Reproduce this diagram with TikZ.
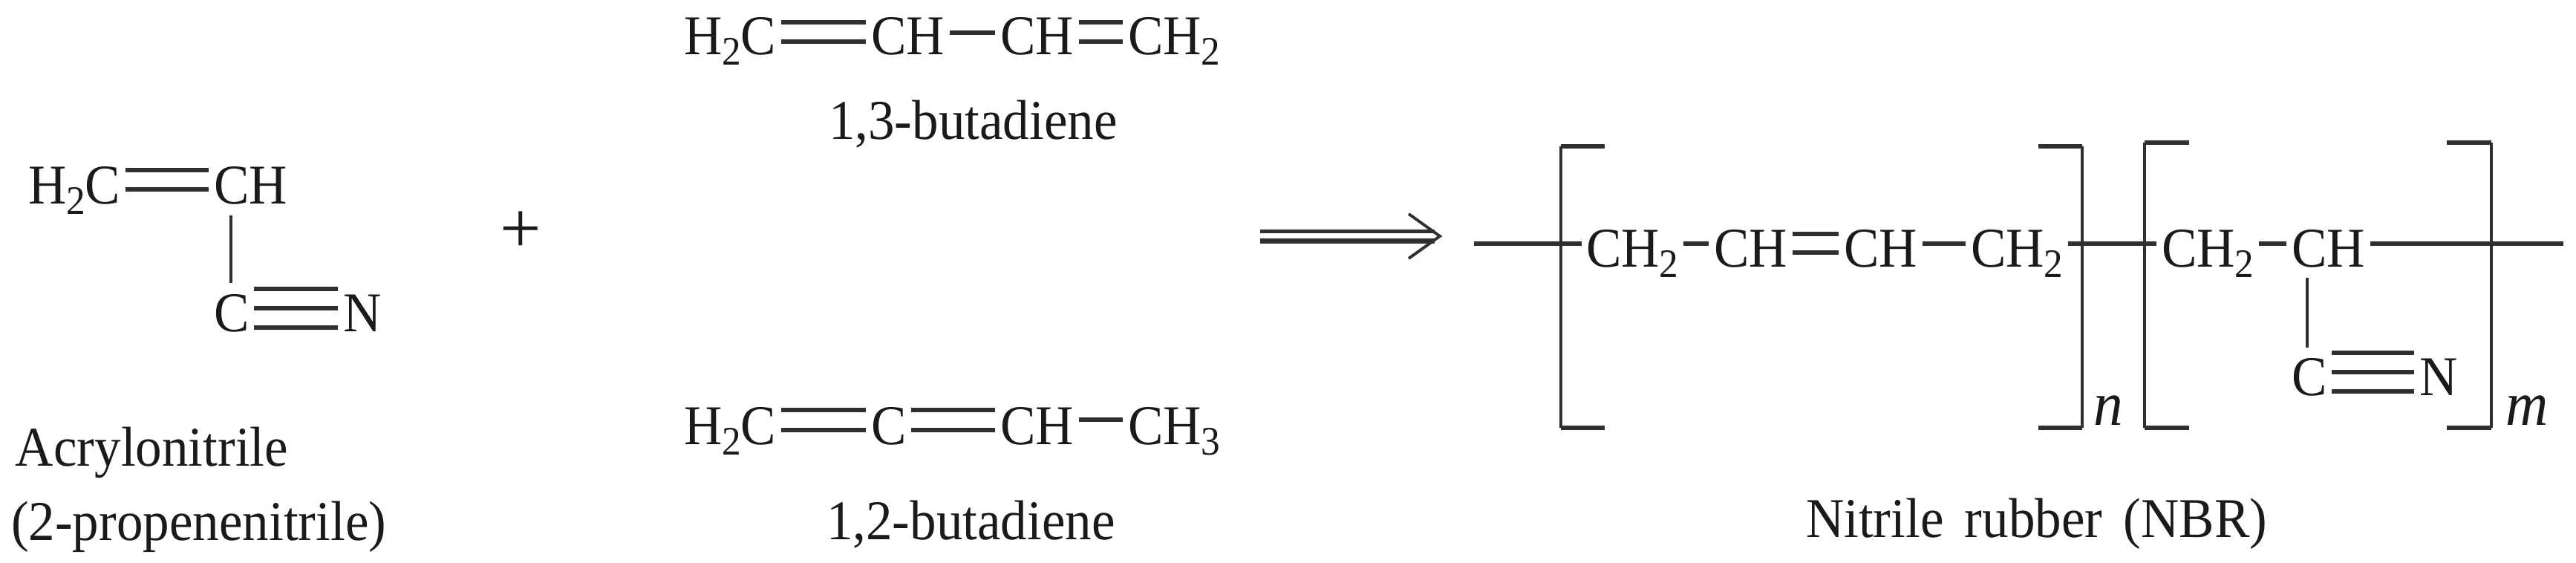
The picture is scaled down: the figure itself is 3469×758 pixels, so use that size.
\documentclass[tikz,border=0pt]{standalone}
\usepackage{fontspec}
\setmainfont[FakeStretch=0.94]{Liberation Serif}
\newfontfamily\plainserif{Liberation Serif}
\definecolor{ink}{HTML}{1A1A1A}
\definecolor{bondink}{HTML}{303030}
\newcommand{\sbs}[1]{\raisebox{-3.9pt}{\fontsize{15.5}{16}\selectfont #1}}
\newcommand{\bond}[3]{\draw[bondline] ([shift={(7,-#3)}]#1.base east) -- ([shift={(-7,-#3)}]#2.base west);}
\tikzset{
  x=0.01cm, y=-0.01cm,
  every node/.style={inner sep=0pt, outer sep=0pt, anchor=base west, text=ink, font=\fontsize{21.5}{24}\selectfont},
  bondline/.style={draw=bondink, line width=1.65pt},
  thinbond/.style={draw=bondink, line width=0.95pt},
  bracket/.style={draw=bondink, line width=1pt},
  bracketarm/.style={draw=bondink, line width=1.6pt},
  polysub/.style={font=\fontsize{24}{26}\selectfont\itshape}
}
\begin{document}
\begin{tikzpicture}
\useasboundingbox (0,0) rectangle (3469,758);
% acrylonitrile
\node (aH) at (38,275) {H\sbs{2}C};
\node (aCH) at (288,275) {CH};
\node (aC) at (288,447) {C};
\node (aN) at (462,447) {N};
\bond{aH}{aCH}{46}
\bond{aH}{aCH}{20}
\draw[thinbond] ([shift={(23,15)}]aCH.base west) -- ([shift={(23,-66)}]aC.base west);
\bond{aC}{aN}{58}
\bond{aC}{aN}{32}
\bond{aC}{aN}{6}
\node (plus) at (673,341) {\plainserif\fontsize{28}{30}\selectfont +};
\node (acry) at (21,627) {Acrylonitrile};
\node (prop) at (15,727) {(2-propenenitrile)};
% 1,3-butadiene
\node (bA) at (921,74) {H\sbs{2}C};
\node (bB) at (1173,74) {CH};
\node (bC) at (1347,74) {CH};
\node (bD) at (1519,74) {CH\sbs{2}};
\bond{bA}{bB}{44}
\bond{bA}{bB}{18}
\bond{bB}{bC}{30}
\bond{bC}{bD}{44}
\bond{bC}{bD}{18}
\node (bname) at (1116,188) {1,3-butadiene};
% 1,2-butadiene
\node (cA) at (921,599) {H\sbs{2}C};
\node (cB) at (1173,599) {C};
\node (cC) at (1347,599) {CH};
\node (cD) at (1519,599) {CH\sbs{3}};
\bond{cA}{cB}{47}
\bond{cA}{cB}{20}
\bond{cB}{cC}{47}
\bond{cB}{cC}{20}
\bond{cC}{cD}{34}
\node (cname) at (1113,726) {1,2-butadiene};
% reaction arrow
\coordinate (arU) at (1697,311.5);
\coordinate (arL) at (1697,324.5);
\coordinate (arUe) at (1932,311.5);
\coordinate (arLe) at (1932,324.5);
\coordinate (arT) at (1939,318);
\coordinate (arH1) at (1897,288);
\coordinate (arH2) at (1897,348);
\draw[bondline] (arU) -- (arUe);
\draw[bondline, line width=1.9pt] (arL) -- (arLe);
\draw[thinbond, line width=1.1pt] (arH1) -- (arT) -- (arH2);
% polymer
\coordinate (chainL) at (1985,328);
\coordinate (chainR) at (3452,328);
\node (p1) at (2136,360) {CH\sbs{2}};
\node (p2) at (2308,360) {CH};
\node (p3) at (2483,360) {CH};
\node (p4) at (2654,360) {CH\sbs{2}};
\node (p5) at (2911,360) {CH\sbs{2}};
\node (p6) at (3086,360) {CH};
\node (p7) at (3086,533) {C};
\node (p8) at (3258,533) {N};
\draw[bondline] (chainL) -- ([shift={(-6,-32)}]p1.base west);
\bond{p1}{p2}{32}
\bond{p2}{p3}{45}
\bond{p2}{p3}{20}
\bond{p3}{p4}{32}
\bond{p4}{p5}{32}
\bond{p5}{p6}{32}
\draw[bondline] ([shift={(7,-32)}]p6.base east) -- (chainR);
\draw[thinbond] ([shift={(21,14)}]p6.base west) -- ([shift={(21,-65)}]p7.base west);
\bond{p7}{p8}{58}
\bond{p7}{p8}{32}
\bond{p7}{p8}{6}
% brackets
\coordinate (b1a) at (2161,197); \coordinate (b1b) at (2102,197);
\coordinate (b1c) at (2102,576); \coordinate (b1d) at (2161,576);
\coordinate (b2a) at (2745,197); \coordinate (b2b) at (2804,197);
\coordinate (b2c) at (2804,576); \coordinate (b2d) at (2745,576);
\coordinate (b3a) at (2948,192); \coordinate (b3b) at (2888,192);
\coordinate (b3c) at (2888,576); \coordinate (b3d) at (2948,576);
\coordinate (b4a) at (3295,192); \coordinate (b4b) at (3355,192);
\coordinate (b4c) at (3355,576); \coordinate (b4d) at (3295,576);
\draw[bracket] (b1b) -- (b1c);
\draw[bracketarm] (b1a) -- (b1b) (b1c) -- (b1d);
\draw[bracket] (b2b) -- (b2c);
\draw[bracketarm] (b2a) -- (b2b) (b2c) -- (b2d);
\draw[bracket] (b3b) -- (b3c);
\draw[bracketarm] (b3a) -- (b3b) (b3c) -- (b3d);
\draw[bracket] (b4b) -- (b4c);
\draw[bracketarm] (b4a) -- (b4b) (b4c) -- (b4d);
\node[polysub] (nsub) at (2819,572) {n};
\node[polysub] (msub) at (3374,572) {m};
\node (nbr) at (2432,723) {Nitrile\hspace{3pt} rubber\hspace{3pt} (NBR)};
\end{tikzpicture}
\end{document}
